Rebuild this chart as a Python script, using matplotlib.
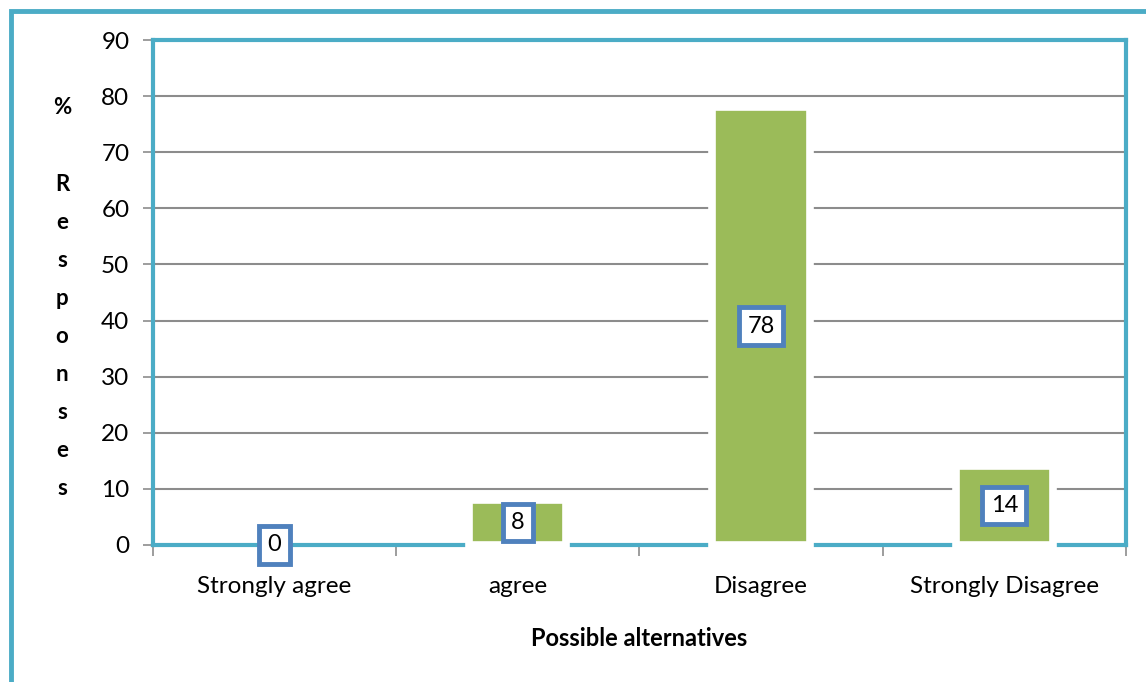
import matplotlib
matplotlib.use("Agg")
import matplotlib.pyplot as plt
import matplotlib.patheffects as pe
from matplotlib.patches import Rectangle

categories = ["Strongly agree", "agree", "Disagree", "Strongly Disagree"]
values = [0, 8, 78, 14]
labels = ["0", "8", "78", "14"]
yticks = [0, 10, 20, 30, 40, 50, 60, 70, 80, 90]

TEAL = "#4BACC6"
GREEN = "#9BBB59"
BLUE = "#4F81BD"
GRID = "#8C8C8C"

plt.rcParams["font.family"] = ["Lato", "DejaVu Sans"]

fig = plt.figure(figsize=(11.46, 6.82), dpi=100)
ax = fig.add_axes([0.1335, 0.2009, 0.849, 0.7404])

# outer frame of the chart area (runs off the right/bottom edge)
fig.patches.append(Rectangle((10.5 / 1146, -0.1), 1.2, 1 - 10.5 / 682 + 0.1,
                             transform=fig.transFigure, fill=False,
                             edgecolor=TEAL, linewidth=3.5, zorder=0))

x = range(len(categories))
shadow = [pe.SimplePatchShadow(offset=(1.5, -1.5), shadow_rgbFace="#999999", alpha=0.35), pe.Normal()]
for xi, v in zip(x, values):
    if v > 0:
        ax.bar(xi, v, width=0.40, color=GREEN, edgecolor="white", linewidth=5.5,
               zorder=3, path_effects=shadow, clip_on=False)
    ax.text(xi, v / 2, labels[xi], ha="center", va="center", fontsize=17, zorder=5,
            bbox=dict(boxstyle="square,pad=0.35", facecolor="white", edgecolor=BLUE, linewidth=3.5))

ax.set_xlim(-0.5, 3.5)
ax.set_ylim(0, 90)
ax.set_yticks(yticks)
ax.set_xticks(list(x))
ax.set_xticklabels(categories, fontsize=17.5)
ax.set_xticks([i - 0.5 for i in range(len(categories) + 1)], minor=True)
ax.tick_params(axis="x", which="major", length=0, pad=22)
ax.tick_params(axis="x", which="minor", length=8, width=1.2, color=GRID, direction="out")
ax.tick_params(axis="y", length=7, width=1.2, color=GRID, labelsize=17.5, pad=10)

ax.yaxis.grid(True, color=GRID, linewidth=1.5, zorder=1)
ax.set_axisbelow(True)
for s in ax.spines.values():
    s.set_color(TEAL)
    s.set_linewidth(3)
    s.set_zorder(2)

ax.set_xlabel("Possible alternatives", fontsize=17, fontweight="bold", labelpad=22)
fig.text(62 / 1146, 1 - 298 / 682, "%\n\nR\ne\ns\np\no\nn\ns\ne\ns", ha="center", va="center",
         fontsize=16, fontweight="bold", linespacing=2.0)

fig.savefig("out.png", dpi=100)
